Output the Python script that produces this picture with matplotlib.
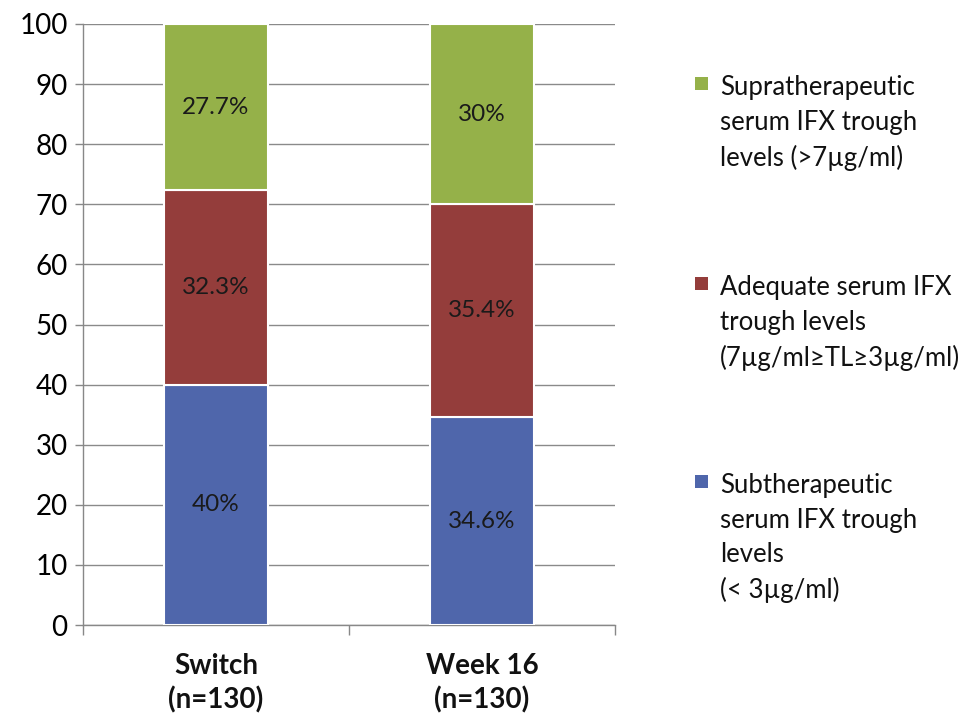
import matplotlib.pyplot as plt
from matplotlib.patches import Rectangle

plt.rcParams['font.family'] = ['Lato', 'DejaVu Sans']

groups = ['Switch\n(n=130)', 'Week 16\n(n=130)']
subther = [40, 34.6]
adequate = [32.3, 35.4]
supra = [27.7, 30]

series = [subther, adequate, supra]
colors = ['#4F66AB', '#943D3B', '#95B149']
names = ['Subtherapeutic\nserum IFX trough\nlevels\n(< 3µg/ml)',
         'Adequate serum IFX\ntrough levels\n(7µg/ml≥TL≥3µg/ml)',
         'Supratherapeutic\nserum IFX trough\nlevels (>7µg/ml)']
labels = [['40%', '34.6%'], ['32.3%', '35.4%'], ['27.7%', '30%']]

fig = plt.figure(figsize=(9.6, 7.18), dpi=100)
ax = fig.add_axes([83 / 960, 1 - 625 / 718, 532 / 960, 601 / 718])

x = [0.5, 1.5]
bottom = [0, 0]
for vals, col, labs in zip(series, colors, labels):
    ax.bar(x, vals, width=0.39, bottom=bottom, color=col,
           edgecolor='white', linewidth=1.5, zorder=3)
    for xi, b, v, lab in zip(x, bottom, vals, labs):
        ax.text(xi, b + v / 2, lab, ha='center', va='center',
                fontsize=17.5, color='#1a1a1a', zorder=4)
    bottom = [b + v for b, v in zip(bottom, vals)]

ax.set_xlim(0, 2)
ax.set_ylim(0, 100)
ax.set_yticks(range(0, 101, 10))
ax.tick_params(axis='y', labelsize=20, length=6, width=1, color='#888888', pad=5)
ax.yaxis.grid(True, color='#8a8a8a', linewidth=1, zorder=0)

ax.set_xticks([0, 1, 2])
ax.set_xticklabels([])
ax.tick_params(axis='x', length=7, width=1, color='#888888')
for xi, g in zip(x, groups):
    ax.text(xi, -4.6, g, ha='center', va='top', fontsize=20,
            fontweight='bold', linespacing=1.35, color='#111111')

for s in ['top', 'right']:
    ax.spines[s].set_visible(False)
for s in ['left', 'bottom']:
    ax.spines[s].set_color('#888888')
    ax.spines[s].set_linewidth(1)

# legend entries, top to bottom
legend_y = [83, 283, 481]
for (name, col), ty in zip(list(zip(names, colors))[::-1], legend_y):
    fig.patches.append(Rectangle((695 / 960, 1 - (ty + 6.5) / 718), 13 / 960, 13 / 718,
                                 transform=fig.transFigure, facecolor=col,
                                 edgecolor='none'))
    fig.text(720 / 960, 1 - (ty - 8) / 718, name, ha='left', va='top',
             fontsize=18.5, linespacing=1.48, color='#111111')

fig.savefig('out.png', dpi=100)
